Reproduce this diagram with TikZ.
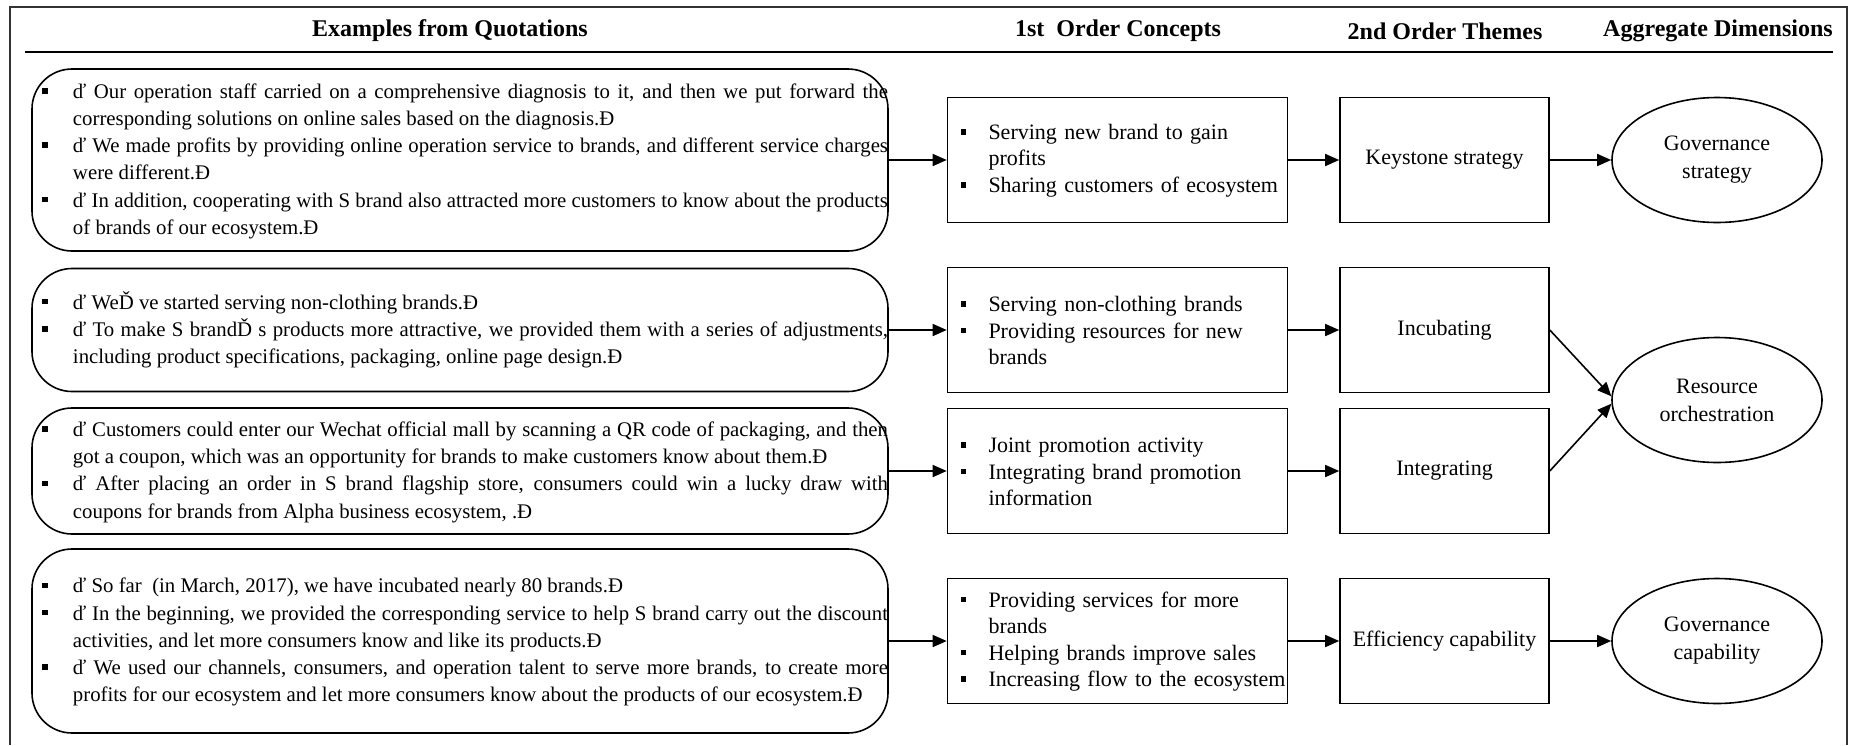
\documentclass[tikz,border=0pt]{standalone}
\usepackage{fontspec}
\setmainfont{Liberation Serif}
\usetikzlibrary{arrows.meta,shapes.geometric}

\newcommand{\carre}{\rule[2.4pt]{2.8pt}{2.8pt}}
\newcommand{\serre}{\spaceskip=.25em plus .15em minus .12em\relax} % espaces un peu plus souples
% liste a puces carrees, #1 = ecart entre la puce et le texte
\newenvironment{puces}[1][12.7pt]{\begin{list}{\carre}{\setlength{\leftmargin}{20.5pt}\setlength{\labelwidth}{2.8pt}\setlength{\labelsep}{#1}%
  \setlength{\itemsep}{0pt}\setlength{\parsep}{0pt}\setlength{\topsep}{0pt}\setlength{\partopsep}{0pt}}}{\end{list}\vspace{5pt}\kern0pt}

\begin{document}
\begin{tikzpicture}[x=0.5pt,y=-0.5pt, % 1 unite = 1 pixel de l'image
  >={Triangle[length=7pt,width=6pt]},
  titre/.style={font=\bfseries\fontsize{12}{14}\selectfont},
  citation/.style={draw,line width=0.8pt,rounded corners=20pt,text width=428pt,align=justify,inner xsep=0pt,inner ysep=0pt,font=\fontsize{10.4}{13.6}\selectfont},
  concept/.style={draw,line width=0.8pt,text width=170pt,inner xsep=0pt,inner ysep=0pt,minimum height=62.5pt,font=\fontsize{11}{13.3}\selectfont},
  theme/.style={draw,line width=0.8pt,minimum width=104.5pt,minimum height=62.5pt,font=\fontsize{11}{13}\selectfont},
  dimension/.style={draw,line width=0.8pt,ellipse,minimum width=105pt,minimum height=62.5pt,inner sep=0pt,align=center,font=\fontsize{11}{14}\selectfont},
  fleche/.style={->,line width=0.8pt}]
\useasboundingbox (0,0) rectangle (1849,745);
\draw[line width=0.8pt,color=black!80] (10,745)--(10,7)--(1847,7)--(1847,745); % le cadre
\draw[line width=1.3pt] (25,52)--(1833,52); % la ligne sous les titres

% les titres
\node[titre] (tq) at (450,31) {Examples from Quotations};
\node[titre] (tc) at (1118,31) {1st\ \ Order Concepts};
\node[titre] (tt) at (1445,31) {2nd Order Themes};
\node[titre] (td) at (1718,31) {Aggregate Dimensions};

% les citations
\node[citation,minimum height=91pt] (q1) at (460,160) {\serre\begin{puces}
\item ď Our operation staff carried on a comprehensive diagnosis to it, and then we put forward the\linebreak corresponding solutions on online sales based on the diagnosis.Đ
\item ď We made profits by providing online operation service to brands, and different service charges\linebreak were different.Đ
\item ď In addition, cooperating with S brand also attracted more customers to know about the products\linebreak of brands of our ecosystem.Đ
\end{puces}};
\node[citation,minimum height=61.5pt] (q2) at (460,330) {\serre\begin{puces}
\item ď WeĎ ve started serving non-clothing brands.Đ
\item ď To make S brandĎ s products more attractive, we provided them with a series of adjustments,\linebreak including product specifications, packaging, online page design.Đ
\end{puces}};
\node[citation,minimum height=63pt] (q3) at (460,471) {\serre\begin{puces}
\item ď Customers could enter our Wechat official mall by scanning a QR code of packaging, and then\linebreak got a coupon, which was an opportunity for brands to make customers know about them.Đ
\item ď After placing an order in S brand flagship store, consumers could win a lucky draw with\linebreak coupons for brands from Alpha business ecosystem, .Đ
\end{puces}};
\node[citation,minimum height=92pt] (q4) at (460,641) {\serre\begin{puces}
\item ď So far\ \ (in March, 2017), we have incubated nearly 80 brands.Đ
\item ď In the beginning, we provided the corresponding service to help S brand carry out the discount\linebreak activities, and let more consumers know and like its products.Đ
\item ď We used our channels, consumers, and operation talent to serve more brands, to create more\linebreak profits for our ecosystem and let more consumers know about the products of our ecosystem.Đ
\end{puces}};

% les concepts
\node[concept] (c1) at (1117.5,160) {\begin{puces}[11.2pt]
\item Serving new brand to gain\newline profits
\item Sharing customers of ecosystem
\end{puces}};
\node[concept] (c2) at (1117.5,330) {\begin{puces}[11.2pt]
\item Serving non-clothing brands
\item Providing resources for new\newline brands
\end{puces}};
\node[concept] (c3) at (1117.5,471) {\begin{puces}[11.2pt]
\item Joint promotion activity
\item Integrating brand promotion\newline information
\end{puces}};
\node[concept] (c4) at (1117.5,641) {\begin{puces}[11.2pt]
\item Providing services for more\newline brands
\item Helping brands improve sales
\item Increasing flow to the ecosystem
\end{puces}};

% les themes
\node[theme] (t1) at (1444.5,160) {Keystone strategy};
\node[theme] (t2) at (1444.5,330) {Incubating};
\node[theme] (t3) at (1444.5,471) {Integrating};
\node[theme] (t4) at (1444.5,641) {Efficiency capability};

% les dimensions
\node[dimension] (d1) at (1717,160) {Governance\\strategy};
\node[dimension] (d2) at (1717,400) {Resource\\orchestration};
\node[dimension] (d3) at (1717,641) {Governance\\capability};

% les fleches
\draw[fleche] (q1.east)--(c1.west);
\draw[fleche] (q2.east)--(c2.west);
\draw[fleche] (q3.east)--(c3.west);
\draw[fleche] (q4.east)--(c4.west);
\draw[fleche] (c1.east)--(t1.west);
\draw[fleche] (c2.east)--(t2.west);
\draw[fleche] (c3.east)--(t3.west);
\draw[fleche] (c4.east)--(t4.west);
\draw[fleche] (t1.east)--(d1.west);
\draw[fleche] (t2.east)--(d2.178);
\draw[fleche] (t3.east)--(d2.182);
\draw[fleche] (t4.east)--(d3.west);
\end{tikzpicture}
\end{document}
